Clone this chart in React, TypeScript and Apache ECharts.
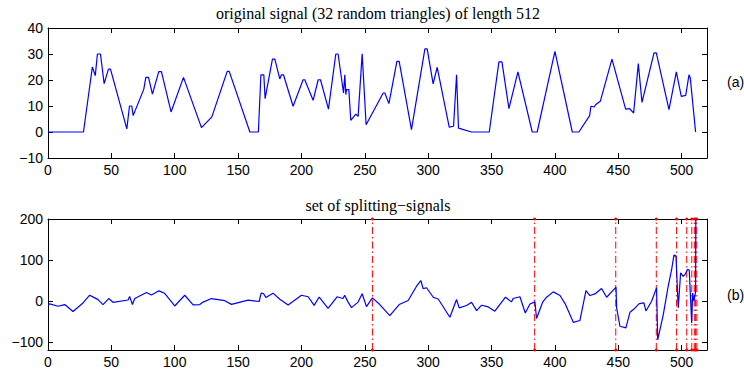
import React, { useEffect, useRef } from "react";
import * as echarts from "echarts";

const topTitle = "original signal (32 random triangles) of length 512";
const bottomTitle = "set of splitting\u2212signals";

const xTicks = [0, 50, 100, 150, 200, 250, 300, 350, 400, 450, 500];
const topYTicks = [-10, 0, 10, 20, 30, 40];
const bottomYTicks = [-100, 0, 100, 200];

const originalSignal: [number, number][] = [
  [0, 0], [28, 0], [35, 25], [37.3, 21.7], [39, 30], [41.4, 30], [44.3, 18.6], [47.7, 24.2], [49.3, 24.2],
  [62.2, 1.2], [64.3, 10], [66.1, 10], [67.2, 6.3], [75.6, 16.5], [77.2, 21], [79.3, 21], [82.4, 14.6],
  [87.4, 23.2], [89.5, 23.2], [97.1, 7.7], [106.9, 21], [121.1, 1.7], [129.3, 5.8], [141.4, 23.3], [143, 23.3],
  [159.3, 0], [166, 0], [168, 22], [170.3, 22], [171.3, 12.8], [177.1, 28], [179, 28], [182.9, 20.4],
  [184.2, 22], [185.8, 22], [193.4, 9.9], [201.3, 20.1], [202.6, 20.1], [209.2, 12.2], [213.2, 20.1], [215, 20.1],
  [221.3, 8.8], [227.1, 30], [228.9, 30], [233.2, 15], [234.2, 22], [235, 14.4], [235.5, 16.3], [237.4, 16.3],
  [238.9, 4.5], [242.9, 6.9], [244.7, 6], [247.9, 30.1], [251, 2.8], [264.5, 15], [265.8, 15], [269, 10.9],
  [275.3, 27.2], [277.1, 27.2], [286.8, 0.9], [297.4, 32], [299.2, 32], [303.9, 18.5], [307.1, 24.9],
  [316.6, 1.9], [320, 2.2], [322.4, 22], [323.9, 1.5], [334.2, 0], [348.2, 0], [355.8, 27], [358.2, 27],
  [363.7, 9], [370.8, 23.1], [382.1, 0], [386, 0], [400, 31], [413.7, 0], [418.9, 0], [427.4, 6.3],
  [428.4, 9.9], [431, 9.6], [432.1, 10.5], [435.8, 11.8], [445, 28], [455.8, 8.8], [458.9, 9], [462.1, 7.3],
  [465.8, 26.3], [468.7, 11.4], [478.2, 30.4], [480, 30.4], [490, 8.6], [495.8, 23.1], [499.7, 13.7],
  [503.2, 14.1], [505.8, 22], [506.8, 20.8], [511, 0],
];

const splittingSignal: [number, number][] = [
  [0, -8], [1.3, -7.4], [7.9, -13.2], [13.2, -9], [19.7, -26], [27.6, -5], [32.9, 13.8], [36.9, 7.3],
  [39.5, 3], [43.4, -9], [47.9, 5.7], [51.3, -3.5], [63.2, 2.2], [64.4, 11], [66.6, -9], [68.5, 5.7],
  [77.7, 20.3], [81.6, 14.5], [87.6, 24.5], [91.9, 18.8], [100, -12.5], [107.9, 13.7], [114.5, -10],
  [119.8, -9], [122.4, -3], [129, 5.7], [139.5, 0.5], [144.8, -8.6], [157.9, 1.7], [166.6, -1.5],
  [168.2, 18.8], [170, 18], [171.9, 8.5], [177.6, 18.8], [182.9, 4], [189.5, -10], [200, 13.7],
  [205.3, 10], [210, -11], [214, 9.4], [221, -18.5], [228.1, 10], [232.8, 5.7], [234.1, 13.7],
  [236.7, -2.4], [239.5, -16.5], [244.7, -3], [247.9, 17.5], [251.3, -14], [256, 7.3], [261.8, -9],
  [269.7, -36], [277.1, -9], [284.2, 0.8], [290.8, 35.8], [294.2, 49.7], [296, 30], [298.7, 32],
  [304, 8.9], [307.9, 4.6], [317.1, -40], [322.4, 3.2], [324.5, -17], [330.3, -11.4], [334.2, -3.3],
  [338.2, -23.8], [342.2, -10.6], [347.4, -14.7], [352.6, -25.2], [361, 8.9], [365.7, -2.5], [367, 5.7],
  [372.4, 10], [376.6, -29.5], [380.3, -7.5], [384.2, -2.5], [385.5, -43], [390.3, -3.3], [393.4, 8.9],
  [398.7, 22], [404, 13], [408, -6.6], [414.5, -52.4], [419.7, -48], [424.5, 25.2], [427.6, 13],
  [431.6, 17], [436.8, 30.2], [440.8, 8.9], [448.2, 33.5], [448.7, -17], [451.3, -62], [456, -66],
  [459.2, -28], [462.4, -20], [466.5, -6.6], [470.2, -5], [471.8, -24.6], [476.3, -0.8], [480.2, 31.8],
  [481.1, -95], [485.5, -33.5], [489.4, 35.8], [492.1, 76.7], [493.9, 111.8], [495.5, 110], [497.3, -17],
  [499.2, 68.6], [501.3, 60], [502.6, 64], [504.7, 77], [506, 75], [507.9, -54], [508.7, 19], [509.7, 0],
  [511, 22], [511.4, 400],
];

const splitPositions = [256, 384, 448, 480, 496, 504, 508, 510, 511, 512];

const FONT = "'Liberation Sans', Arial, sans-serif";
const SERIF = "'Liberation Serif', 'Times New Roman', serif";

const fmtNum = (v: number) => (v < 0 ? "\u2212" + Math.abs(v) : String(v));

function xAxisDef(gridIndex: number, position: "bottom" | "top", labels: boolean) {
  return {
    type: "value",
    gridIndex,
    position,
    min: 0,
    max: 520,
    splitLine: { show: false },
    axisLine: { show: true, onZero: false, lineStyle: { color: "#000", width: 1 } },
    axisTick: { show: true, inside: true, length: 5, customValues: xTicks, lineStyle: { color: "#000" } },
    axisLabel: {
      show: labels,
      customValues: xTicks,
      margin: 5,
      color: "#000",
      fontSize: 14,
      fontFamily: FONT,
      formatter: (v: number) => fmtNum(v),
    },
  };
}

function yAxisDef(gridIndex: number, position: "left" | "right", labels: boolean, min: number, max: number, ticks: number[]) {
  return {
    type: "value",
    gridIndex,
    position,
    min,
    max,
    splitLine: { show: false },
    axisLine: { show: true, onZero: false, lineStyle: { color: "#000", width: 1 } },
    axisTick: { show: true, inside: true, length: 5, customValues: ticks, lineStyle: { color: "#000" } },
    axisLabel: {
      show: labels,
      customValues: ticks,
      margin: 5,
      color: "#000",
      fontSize: 14,
      fontFamily: FONT,
      formatter: (v: number) => fmtNum(v),
    },
  };
}

export default function App() {
  const ref = useRef<HTMLDivElement>(null);
  useEffect(() => {
    if (!ref.current) return;
    const chart = echarts.init(ref.current, null, { renderer: "svg" });
    const splitSeries = splitPositions.map((x) => ({
      type: "line",
      xAxisIndex: 2,
      yAxisIndex: 2,
      data: [[x, -120], [x, 200]],
      symbol: "circle",
      symbolSize: 3,
      showSymbol: true,
      itemStyle: { color: "#ff0000" },
      lineStyle: { color: "#ff0000", width: 1, type: [7, 3, 1.5, 3] },
      clip: false,
      z: 3,
    }));
    chart.setOption({
      animation: false,
      backgroundColor: "#ffffff",
      grid: [
        { left: 48, top: 28, right: 37, height: 130, containLabel: false },
        { left: 48, top: 219, right: 37, height: 131, containLabel: false },
      ],
      xAxis: [
        xAxisDef(0, "bottom", true),
        xAxisDef(0, "top", false),
        xAxisDef(1, "bottom", true),
        xAxisDef(1, "top", false),
      ],
      yAxis: [
        yAxisDef(0, "left", true, -10, 40, topYTicks),
        yAxisDef(0, "right", false, -10, 40, topYTicks),
        yAxisDef(1, "left", true, -120, 200, bottomYTicks),
        yAxisDef(1, "right", false, -120, 200, bottomYTicks),
      ],
      graphic: [
        { type: "text", x: 378, y: 13, style: { text: topTitle, font: `16px ${SERIF}`, fill: "#000", textAlign: "center", textVerticalAlign: "middle" } },
        { type: "text", x: 378, y: 205, style: { text: bottomTitle, font: `16px ${SERIF}`, fill: "#000", textAlign: "center", textVerticalAlign: "middle" } },
        { type: "text", x: 727, y: 82, style: { text: "(a)", font: `14px ${FONT}`, fill: "#000", textAlign: "left", textVerticalAlign: "middle" } },
        { type: "text", x: 727, y: 295, style: { text: "(b)", font: `14px ${FONT}`, fill: "#000", textAlign: "left", textVerticalAlign: "middle" } },
      ],
      series: [
        {
          type: "line",
          xAxisIndex: 0,
          yAxisIndex: 0,
          data: originalSignal,
          showSymbol: false,
          symbol: "none",
          lineStyle: { color: "#0000ff", width: 1.2 },
          z: 4,
        },
        {
          type: "line",
          xAxisIndex: 2,
          yAxisIndex: 2,
          data: splittingSignal,
          showSymbol: false,
          symbol: "none",
          lineStyle: { color: "#0000ff", width: 1.2 },
          clip: true,
          z: 4,
        },
        ...splitSeries,
      ],
    });
    return () => chart.dispose();
  }, []);
  return (
    <div
      ref={ref}
      style={{ position: "fixed", left: 0, top: 0, width: 744, height: 375, background: "#fff" }}
    />
  );
}
